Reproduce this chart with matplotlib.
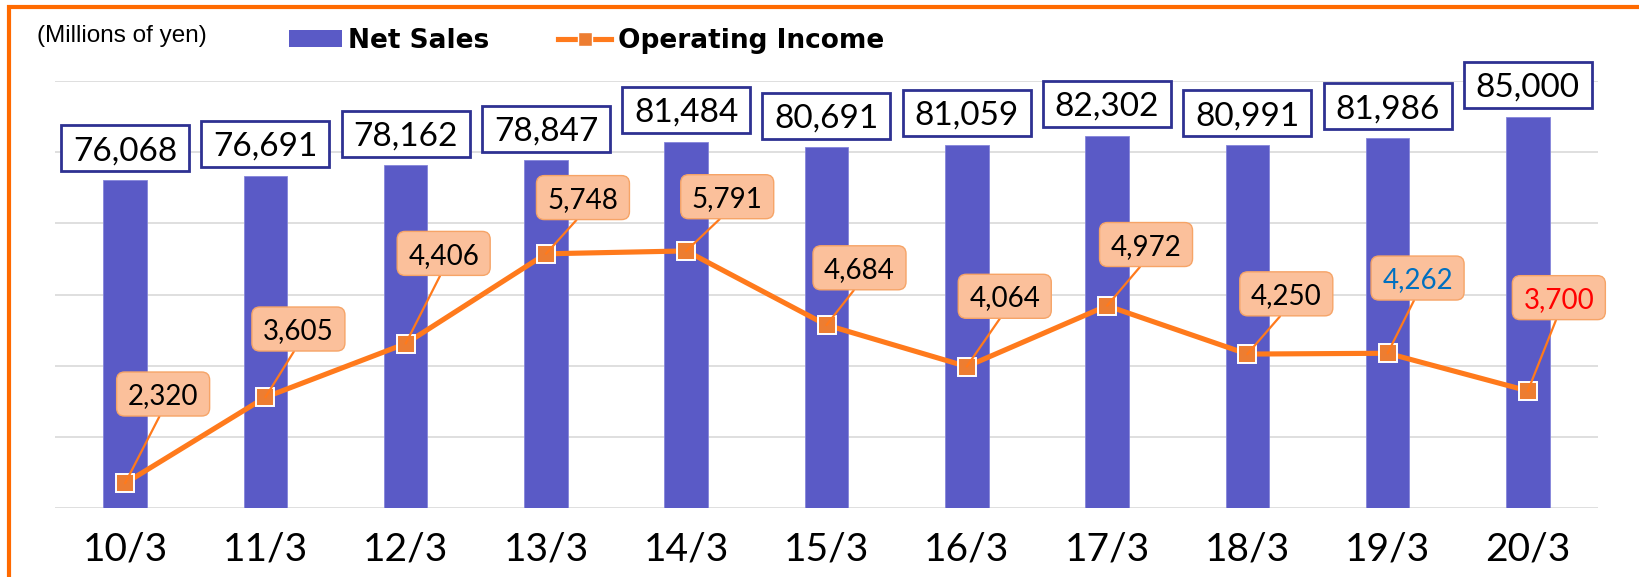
import matplotlib
matplotlib.use('Agg')
import matplotlib.pyplot as plt
from matplotlib.path import Path
from matplotlib.patches import BoxStyle, Patch
from matplotlib.lines import Line2D

# ---------------- data ----------------
categories = ['10/3', '11/3', '12/3', '13/3', '14/3', '15/3',
              '16/3', '17/3', '18/3', '19/3', '20/3']
net_sales = [76068, 76691, 78162, 78847, 81484, 80691,
             81059, 82302, 80991, 81986, 85000]
operating_income = [2320, 3605, 4406, 5748, 5791, 4684,
                    4064, 4972, 4250, 4262, 3700]
oi_label_colors = ['black'] * 9 + ['#0070C0', '#FF0000']
# label offsets (pixels) of operating-income callouts relative to the marker
oi_label_offsets = [(38, 87), (33, 66), (38, 88), (37, 54), (41, 52), (33, 55),
                    (38, 68), (39, 59), (39, 58), (30, 73), (31, 91)]

W, H, DPI = 1640, 577, 100
BAR_C = '#5A5AC6'
LINE_C = '#FF7A1C'
MARK_C = '#ED7D31'
NAVY = '#2E3192'


class FixedBox:
    """Box of fixed pixel size centred on the text."""
    def __init__(self, w, h, r=0.0, dy=0.0):
        self.w, self.h, self.r, self.dy = w, h, r, dy

    def __call__(self, x0, y0, width, height, mutation_size):
        cx = x0 + width / 2
        cy = y0 + height / 2 + self.dy * mutation_size
        bx, by = cx - self.w / 2, cy - self.h / 2
        if self.r > 0:
            return BoxStyle.Round(pad=0, rounding_size=self.r)(bx, by, self.w, self.h, 1.0)
        return Path([(bx, by), (bx + self.w, by), (bx + self.w, by + self.h),
                     (bx, by + self.h), (bx, by)], closed=True)


fig = plt.figure(figsize=(W / DPI, H / DPI), dpi=DPI)
ax = fig.add_axes([55 / W, (H - 508) / H, (1598 - 55) / W, (508 - 81) / H])

x = list(range(len(categories)))
bars = ax.bar(x, net_sales, width=0.31, color=BAR_C, edgecolor='#8585DA',
              linewidth=0.6, zorder=2)
ax.set_xlim(-0.5, len(categories) - 0.5)
ax.set_ylim(30000, 90000)
ax.set_yticks(range(30000, 90001, 10000))
ax.yaxis.grid(True, color='#D9D9D9', linewidth=1.2)
ax.set_axisbelow(True)
ax.tick_params(axis='y', length=0, labelleft=False)
ax.tick_params(axis='x', length=0, pad=17)
ax.set_xticks(x, categories, fontsize=28, family='Lato')
for s in ax.spines.values():
    s.set_visible(False)

for i, v in enumerate(net_sales):
    ax.annotate(f'{v:,}', xy=(i, v), xytext=(0, 29), textcoords='offset pixels',
                ha='center', va='center', fontsize=24, family='Lato', color='black',
                bbox=dict(boxstyle=FixedBox(128, 46, dy=0.08), fc='white',
                          ec=NAVY, lw=2.0), zorder=4)

ax2 = ax.twinx()
ax2.set_ylim(1950, 8330)
ax2.set_yticks([])
for s in ax2.spines.values():
    s.set_visible(False)
line, = ax2.plot(x, operating_income, color=LINE_C, lw=3.7, marker='s',
                 markersize=13.5, markerfacecolor=MARK_C, markeredgecolor='white',
                 markeredgewidth=1.4, zorder=3)

for i, v in enumerate(operating_income):
    ax2.annotate(f'{v:,}', xy=(i, v), xytext=oi_label_offsets[i],
                 textcoords='offset pixels', ha='center', va='center',
                 fontsize=20, family='Lato', color=oi_label_colors[i],
                 bbox=dict(boxstyle=FixedBox(93, 44, r=8, dy=0.08), fc='#FBC09B',
                           ec='#F6A467', lw=1.0),
                 arrowprops=dict(arrowstyle='-', color=LINE_C, lw=1.6,
                                 relpos=(0.5, 0), shrinkA=0, shrinkB=0),
                 zorder=5)

# legend
h_ns = Patch(facecolor=BAR_C, edgecolor='none')
h_oi = Line2D([], [], color=LINE_C, lw=3.7, marker='s', markersize=10,
              markerfacecolor=MARK_C, markeredgecolor='white', markeredgewidth=1)
fig.legend([h_ns, h_oi], ['Net Sales', 'Operating Income'], loc='center left',
           bbox_to_anchor=(289 / W, 1 - 41 / H), ncol=2, frameon=False,
           prop=dict(family='DejaVu Sans', weight='bold', size=19),
           handlelength=2.0, handleheight=0.6, handletextpad=0.25,
           columnspacing=2.6, borderpad=0, borderaxespad=0)

fig.text(37 / W, 1 - 36 / H, '(Millions of yen)', fontsize=17.5,
         family='Liberation Sans', ha='left', va='center')

# orange frame
fig.add_artist(Line2D([7 / W, 1.0], [1 - 7 / H, 1 - 7 / H], transform=fig.transFigure,
                      color='#FF6A00', lw=3.0, solid_capstyle='butt'))
fig.add_artist(Line2D([9.5 / W, 9.5 / W], [0, 1 - 5 / H], transform=fig.transFigure,
                      color='#FF6A00', lw=3.0, solid_capstyle='butt'))

fig.savefig('out.png', dpi=DPI)
